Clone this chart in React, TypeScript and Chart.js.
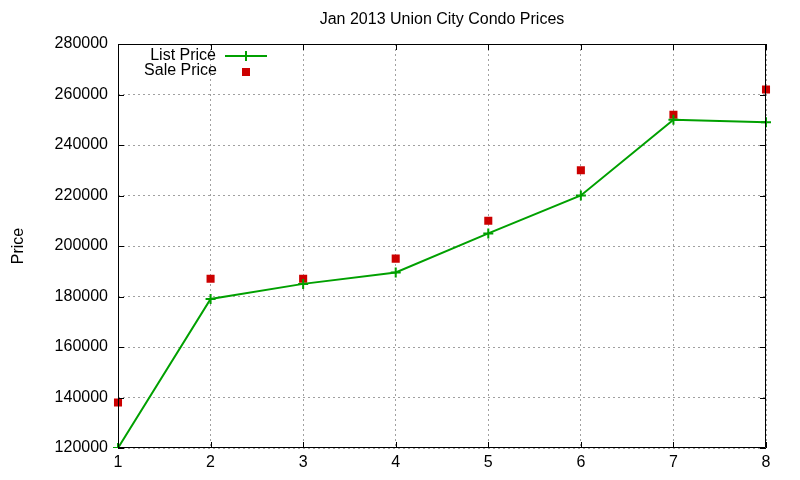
import { useEffect, useRef } from 'react'
import { Chart, registerables, Plugin } from 'chart.js'

Chart.register(...registerables)

const months = ['1', '2', '3', '4', '5', '6', '7', '8']
const listPrice = [120000, 179000, 185000, 189500, 205000, 220000, 250000, 249000]
const salePrice = [138000, 187000, 187000, 195000, 210000, 230000, 252000, 262000]
const titleText = 'Jan 2013 Union City Condo Prices'

const FONT = "'Liberation Sans', Arial, sans-serif"
const GREEN = '#00a000'
const RED = '#cc0000'

// gnuplot-ish frame: full border box, inward ticks, title and the key
const framePlugin: Plugin<'line'> = {
  id: 'frame',
  afterDraw(chart) {
    const { ctx, chartArea: a, scales } = chart
    ctx.save()
    ctx.strokeStyle = '#000'
    ctx.lineWidth = 1
    ctx.beginPath()
    ctx.rect(a.left + 0.5, a.top + 0.5, a.right - a.left - 1, a.bottom - a.top - 1)
    ctx.stroke()

    const tl = 6
    ctx.beginPath()
    scales.y.ticks.forEach(t => {
      const y = Math.round(scales.y.getPixelForValue(t.value)) + 0.5
      ctx.moveTo(a.left, y); ctx.lineTo(a.left + tl, y)
      ctx.moveTo(a.right, y); ctx.lineTo(a.right - tl, y)
    })
    scales.x.ticks.forEach((_t, i) => {
      const x = Math.round(scales.x.getPixelForTick(i)) + 0.5
      ctx.moveTo(x, a.bottom); ctx.lineTo(x, a.bottom - tl)
      ctx.moveTo(x, a.top); ctx.lineTo(x, a.top + tl)
    })
    ctx.stroke()

    // title centred over the plot area
    ctx.fillStyle = '#000'
    ctx.font = `16px ${FONT}`
    ctx.textAlign = 'center'
    ctx.textBaseline = 'middle'
    ctx.fillText(titleText, (a.left + a.right) / 2, 20)

    // key
    const ds = chart.data.datasets
    ctx.textAlign = 'right'
    ctx.fillText(String(ds[0].label), 216, 56)
    ctx.fillText(String(ds[1].label), 217, 71)
    ctx.strokeStyle = GREEN
    ctx.lineWidth = 2
    ctx.beginPath()
    ctx.moveTo(225, 56); ctx.lineTo(267, 56)
    ctx.moveTo(246, 51); ctx.lineTo(246, 61)
    ctx.stroke()
    ctx.fillStyle = RED
    ctx.fillRect(242, 68, 8, 8)
    ctx.restore()
  }
}

export default function App() {
  const canvasRef = useRef<HTMLCanvasElement>(null)

  useEffect(() => {
    if (!canvasRef.current) return
    document.body.style.margin = '0'

    const config: any = {
      type: 'line',
      data: {
        labels: months,
        datasets: [
          {
            label: 'List Price',
            data: listPrice,
            borderColor: GREEN,
            backgroundColor: GREEN,
            borderWidth: 2,
            pointStyle: 'cross',
            pointRadius: 5,
            pointBorderWidth: 2,
            tension: 0
          },
          {
            label: 'Sale Price',
            data: salePrice,
            showLine: false,
            borderColor: RED,
            backgroundColor: RED,
            pointStyle: 'rect',
            pointRadius: 5.7,
            pointBorderWidth: 0
          }
        ]
      },
      options: {
        animation: false,
        responsive: false,
        layout: { padding: { left: 0, right: 34, top: 44, bottom: 0 } },
        plugins: {
          legend: { display: false },
          title: { display: false },
          tooltip: { enabled: false }
        },
        scales: {
          x: {
            offset: false,
            grid: { color: '#a0a0a0', drawTicks: false },
            border: { display: false, dash: [2, 3] },
            ticks: { color: '#000', font: { family: FONT, size: 16 }, padding: 5, maxRotation: 0 },
            afterFit: (s: any) => { s.height = 32 }
          },
          y: {
            min: 120000,
            max: 280000,
            grid: { color: '#a0a0a0', drawTicks: false },
            border: { display: false, dash: [2, 3] },
            ticks: {
              color: '#000',
              stepSize: 20000,
              font: { family: FONT, size: 16 },
              padding: 10,
              callback: (v: number) => String(v)
            },
            title: {
              display: true,
              text: 'Price',
              color: '#000',
              font: { family: FONT, size: 16 },
              padding: { top: 9, bottom: 0 }
            },
            afterFit: (s: any) => { s.width = 118 }
          }
        }
      },
      plugins: [framePlugin]
    }

    const chart = new Chart(canvasRef.current, config)
    return () => chart.destroy()
  }, [])

  return (
    <div style={{ width: 800, height: 480, background: '#fff' }}>
      <canvas ref={canvasRef} width={800} height={480} />
    </div>
  )
}
